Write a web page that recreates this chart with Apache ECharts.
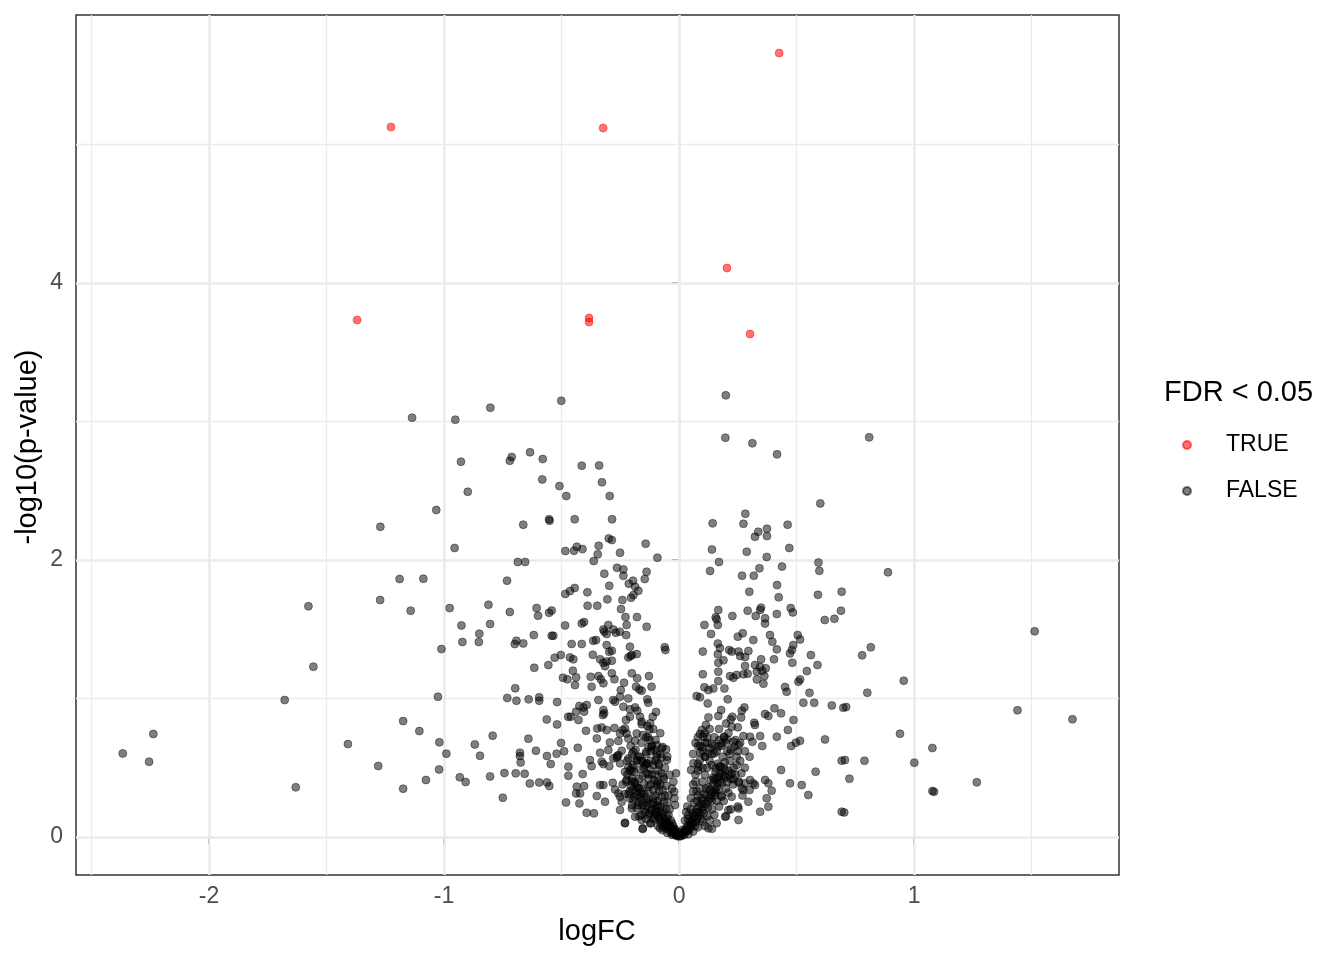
<!DOCTYPE html>
<html>
<head>
<meta charset="utf-8">
<script src="https://cdn.jsdelivr.net/npm/echarts@6/dist/echarts.min.js"></script>
<style>
html,body{margin:0;padding:0;background:#fff;}
#chart{width:1344px;height:960px;}
</style>
</head>
<body>
<div id="chart"></div>
<script>
// ---- Data (logFC, -log10 p-value) ----
const sigPoints = [
  [0.426,5.66],[-1.226,5.126],[-0.323,5.119],[0.204,4.108],[-1.370,3.733],
  [-0.383,3.747],[-0.383,3.718],[0.302,3.632]
];

const farLeft = [
  [-1.271,2.24],[-1.189,1.863],[-1.272,1.711],[-1.577,1.666],[-1.556,1.23],[-1.678,0.989],
  [-1.174,0.837],[-1.409,0.671],[-1.280,0.513],[-1.631,0.359],[-1.174,0.349],
  [-2.237,0.744],[-2.367,0.604],[-2.255,0.544]
];

const leftUpper = [
  [-1.136,3.028],[-0.952,3.013],[-0.803,3.100],[-0.501,3.150],[-0.928,2.710],[-0.712,2.744],
  [-0.720,2.717],[-0.634,2.778],[-0.580,2.729],[-0.582,2.582],[-0.509,2.534],[-0.480,2.462],
  [-0.899,2.493],[-1.033,2.361],[-0.553,2.294],[-0.551,2.284],[-0.663,2.255],[-0.955,2.087],
  [-0.484,2.065],[-0.686,1.986],[-0.655,1.986],[-1.088,1.865],[-0.732,1.851],[-0.484,1.755],
  [-0.464,1.776],[-1.142,1.634],[-0.976,1.653],[-0.811,1.677],[-0.720,1.625],[-0.606,1.653],
  [-0.600,1.598],[-0.553,1.619],[-0.542,1.635]
];

const leftLower = [
  [-0.926,1.528],[-0.804,1.538],[-0.850,1.468],[-0.922,1.408],[-0.852,1.408],[-1.011,1.357],
  [-0.692,1.417],[-0.699,1.393],[-0.663,1.398],[-0.618,1.458],[-0.542,1.453],[-0.535,1.453],
  [-0.485,1.528],[-0.616,1.222],[-0.556,1.242],[-0.529,1.295],[-0.503,1.314],[-0.494,1.150],
  [-0.697,1.074],[-1.026,1.013],[-0.731,1.004],[-0.692,0.984],[-0.640,0.994],[-0.595,1.009],
  [-0.595,0.984],[-0.519,0.975],[-1.105,0.765],[-0.563,0.849],[-0.519,0.813],[-0.472,0.868],
  [-0.793,0.732],[-1.020,0.684],[-0.869,0.669],[-0.990,0.602],[-0.847,0.587],[-0.641,0.710],
  [-0.677,0.609],[-0.677,0.585],[-0.674,0.539],[-0.609,0.623],[-0.562,0.585],[-0.546,0.527],
  [-0.521,0.602],[-0.502,0.679],[-0.489,0.619],[-1.021,0.488],[-1.077,0.412],[-0.933,0.431],
  [-0.908,0.397],[-0.804,0.438],[-0.743,0.462],[-0.695,0.460],[-0.657,0.457],[-0.635,0.387],
  [-0.595,0.394],[-0.562,0.394],[-0.552,0.368],[-0.750,0.284],[-0.481,0.250],[-0.471,0.508],
  [-0.471,0.443]
];

const innerLeftUpper = [
  [-0.414,2.681],[-0.340,2.683],[-0.328,2.561],[-0.295,2.462],[-0.444,2.294],[-0.285,2.294],
  [-0.299,2.156],[-0.286,2.144],[-0.142,2.118],[-0.447,2.067],[-0.435,2.096],[-0.411,2.079],
  [-0.342,2.103],[-0.346,2.041],[-0.363,1.993],[-0.251,2.053],[-0.092,2.017],[-0.318,1.901],
  [-0.264,1.944],[-0.237,1.932],[-0.237,1.886],[-0.138,1.915],[-0.146,1.863],[-0.196,1.851],
  [-0.214,1.829],[-0.187,1.807],[-0.173,1.778],[-0.297,1.814],[-0.444,1.798],[-0.390,1.767],
  [-0.389,1.670],[-0.348,1.670],[-0.305,1.716],[-0.241,1.711],[-0.204,1.728],[-0.194,1.747],
  [-0.247,1.646],[-0.228,1.588],[-0.179,1.588],[-0.138,1.518],[-0.223,1.531],[-0.414,1.542],
  [-0.404,1.552],[-0.301,1.531],[-0.322,1.499],[-0.280,1.499]
];

const innerLeftLower = [
  [-0.318,1.483],[-0.308,1.466],[-0.269,1.475],[-0.252,1.483],[-0.225,1.458],
  [-0.457,1.394],[-0.414,1.394],[-0.365,1.417],[-0.353,1.422],[-0.308,1.386],[-0.297,1.338],
  [-0.286,1.345],[-0.209,1.374],[-0.201,1.314],[-0.180,1.321],[-0.061,1.370],[-0.058,1.350],
  [-0.464,1.297],[-0.450,1.283],[-0.367,1.316],[-0.336,1.283],[-0.322,1.258],[-0.308,1.268],
  [-0.286,1.273],[-0.315,1.234],[-0.216,1.297],[-0.206,1.307],
  [-0.452,1.201],[-0.475,1.139],[-0.438,1.153],[-0.443,1.097],[-0.376,1.157],[-0.372,1.085],
  [-0.343,1.162],[-0.333,1.139],[-0.322,1.110],[-0.286,1.182],[-0.275,1.139],[-0.234,1.114],
  [-0.248,1.061],[-0.201,1.182],[-0.178,1.146],[-0.183,1.085],[-0.169,1.066],[-0.159,1.056],
  [-0.128,1.162],[-0.117,1.085],
  [-0.343,0.989],[-0.280,0.989],[-0.272,0.977],[-0.251,1.013],[-0.216,1.001],[-0.237,0.941],
  [-0.209,0.922],[-0.187,0.936],[-0.178,0.912],[-0.135,0.994],[-0.131,0.970],[-0.098,0.903],
  [-0.112,0.869],[-0.424,0.946],[-0.407,0.936],[-0.393,0.953],[-0.404,0.905],[-0.438,0.905],
  [-0.461,0.869],[-0.428,0.845],[-0.322,0.917],[-0.324,0.881],[-0.319,0.893],[-0.226,0.845],
  [-0.209,0.869],[-0.166,0.869],[-0.159,0.833],[-0.123,0.821],
  [-0.396,0.767],[-0.348,0.784],[-0.329,0.791],[-0.308,0.772],[-0.275,0.788],[-0.240,0.772],
  [-0.230,0.784],[-0.223,0.748],[-0.251,0.748],[-0.180,0.748],[-0.159,0.815],[-0.135,0.801],
  [-0.126,0.777],[-0.154,0.736],[-0.350,0.712],[-0.294,0.683],[-0.258,0.693],[-0.216,0.712],
  [-0.206,0.657],[-0.131,0.720],[-0.117,0.652],[-0.095,0.664],[-0.187,0.695],[-0.431,0.644],
  [-0.336,0.608],[-0.301,0.628],[-0.258,0.592],[-0.244,0.623],[-0.265,0.575],[-0.216,0.568],
  [-0.194,0.616],[-0.166,0.580],[-0.140,0.616],[-0.095,0.604],[-0.074,0.640],[-0.055,0.633],
  [-0.410,0.455],[-0.379,0.556],[-0.372,0.512],[-0.329,0.544],[-0.322,0.527],[-0.297,0.512],
  [-0.280,0.568],[-0.263,0.585],[-0.251,0.532],[-0.230,0.471],[-0.216,0.507],[-0.201,0.479],
  [-0.180,0.556],[-0.154,0.544],[-0.140,0.532],[-0.131,0.455],[-0.088,0.532],[-0.074,0.575],
  [-0.052,0.556],[-0.013,0.460],[-0.336,0.375],[-0.322,0.375],[-0.282,0.392],[-0.272,0.344],
  [-0.258,0.315],[-0.251,0.291],[-0.244,0.255],[-0.223,0.412],[-0.201,0.424],[-0.187,0.388],
  [-0.173,0.352],[-0.159,0.315],[-0.131,0.363],[-0.095,0.388],[-0.067,0.436],[-0.024,0.400],
  [-0.021,0.327],[-0.435,0.364],[-0.438,0.315],[-0.421,0.315],[-0.404,0.368],[-0.424,0.243],
  [-0.350,0.296],[-0.315,0.255],[-0.251,0.195],[-0.393,0.175],[-0.362,0.171],[-0.230,0.103],
  [-0.201,0.207],[-0.187,0.147],[-0.159,0.123],[-0.123,0.099],[-0.154,0.063],[-0.081,0.063],
  [-0.052,0.094],[-0.017,0.231]
];

const centerLeft = [
  [-0.01,0.01],[-0.02,0.02],[-0.015,0.04],[-0.03,0.05],[-0.025,0.08],[-0.04,0.07],[-0.05,0.1],
  [-0.035,0.12],[-0.06,0.13],[-0.045,0.16],[-0.07,0.17],[-0.055,0.2],[-0.08,0.22],[-0.065,0.25],
  [-0.09,0.26],[-0.075,0.29],[-0.1,0.3],[-0.085,0.33],[-0.11,0.34],[-0.095,0.37],[-0.12,0.38],
  [-0.105,0.41],[-0.13,0.42],[-0.115,0.45],[-0.14,0.46],[-0.125,0.49],[-0.15,0.5],[-0.135,0.53],
  [-0.16,0.55],[-0.1,0.2],[-0.12,0.24],[-0.14,0.28],[-0.16,0.32],[-0.18,0.36],[-0.2,0.4],
  [-0.13,0.16],[-0.15,0.2],[-0.17,0.25],[-0.19,0.29],[-0.21,0.33],[-0.11,0.13],[-0.09,0.08],
  [-0.07,0.05],[-0.05,0.03],[-0.03,0.015],[-0.08,0.12],[-0.06,0.08],[-0.1,0.16],[-0.12,0.1],
  [-0.14,0.13],[-0.16,0.16],[-0.18,0.21],[-0.2,0.23],[-0.17,0.42],[-0.19,0.47],[-0.15,0.38],
  [-0.13,0.33],[-0.11,0.28],[-0.09,0.23],[-0.07,0.19],[-0.05,0.14],[-0.04,0.2],[-0.06,0.3],
  [-0.08,0.38],[-0.1,0.45],[-0.12,0.55],[-0.14,0.6],[-0.02,0.06],[-0.03,0.1],[-0.09,0.4],
  [-0.07,0.34],[-0.05,0.25],[-0.11,0.52],[-0.13,0.65],[-0.18,0.55],[-0.2,0.6],[-0.22,0.45],
  [-0.24,0.38],[-0.155,0.058],[-0.23,0.099],[-0.17,0.15],[-0.1,0.55],[-0.08,0.6],[-0.06,0.5],
  [-0.04,0.45],[-0.12,0.62],[-0.1,0.7],[-0.08,0.75],[-0.14,0.72],[-0.16,0.68],[-0.11,0.78],
  [-0.07,0.65],[-0.05,0.58],[-0.03,0.35],[-0.02,0.28],[-0.09,0.48],[-0.005,0.005],[-0.012,0.025],
  [-0.008,0.015],[-0.022,0.035],[-0.018,0.055],[-0.033,0.065],[-0.028,0.03],[-0.042,0.09],
  [-0.052,0.06],[-0.064,0.1],[-0.072,0.14],[-0.082,0.18],[-0.088,0.15],[-0.098,0.22],
  [-0.108,0.25],[-0.118,0.19],[-0.128,0.27],[-0.138,0.22],[-0.148,0.31],[-0.158,0.26],
  [-0.168,0.35],[-0.178,0.3],[-0.188,0.4],[-0.198,0.34],[-0.2,0.5],[-0.22,0.55],[-0.21,0.28],
  [-0.23,0.31],
  [-0.015,0.02],[-0.025,0.045],[-0.038,0.04],[-0.048,0.075],[-0.058,0.11],[-0.068,0.075],
  [-0.078,0.1],[-0.085,0.135],[-0.095,0.18],[-0.105,0.14],[-0.115,0.2],[-0.125,0.17],
  [-0.135,0.25],[-0.145,0.18],[-0.155,0.23],[-0.165,0.29],[-0.175,0.23],[-0.185,0.33],
  [-0.195,0.27],[-0.205,0.37],[-0.215,0.31],[-0.225,0.4],[-0.045,0.3],[-0.055,0.37],
  [-0.065,0.42],[-0.075,0.46],[-0.085,0.52],[-0.095,0.58],[-0.105,0.63],[-0.115,0.66],
  [-0.125,0.7],[-0.145,0.52],[-0.155,0.44],[-0.165,0.49],[-0.175,0.58],[-0.185,0.63],
  [-0.195,0.52],[-0.21,0.48]
];

const centerRight = [
  [0.01,0.01],[0.02,0.03],[0.015,0.05],[0.03,0.04],[0.035,0.08],[0.05,0.07],[0.045,0.11],
  [0.06,0.1],[0.06,0.14],[0.075,0.13],[0.07,0.18],[0.09,0.17],[0.085,0.22],[0.1,0.2],[0.1,0.26],
  [0.115,0.24],[0.115,0.3],[0.13,0.28],[0.13,0.34],[0.145,0.32],[0.145,0.38],[0.16,0.36],
  [0.16,0.42],[0.175,0.4],[0.175,0.46],[0.19,0.44],[0.19,0.5],[0.21,0.48],[0.22,0.42],[0.24,0.45],
  [0.2,0.35],[0.23,0.38],[0.18,0.3],[0.21,0.32],[0.16,0.26],[0.19,0.26],[0.14,0.2],[0.17,0.22],
  [0.12,0.15],[0.15,0.16],[0.1,0.11],[0.13,0.12],[0.08,0.07],[0.11,0.08],[0.04,0.02],[0.06,0.04],
  [0.025,0.12],[0.04,0.16],[0.05,0.2],[0.065,0.25],[0.08,0.3],[0.09,0.35],[0.1,0.4],[0.11,0.45],
  [0.12,0.5],[0.13,0.55],[0.14,0.6],[0.07,0.4],[0.08,0.48],[0.06,0.33],[0.05,0.28],[0.09,0.56],
  [0.1,0.62],[0.12,0.68],[0.15,0.72],[0.17,0.78],[0.2,0.82],[0.22,0.85],[0.06,0.6],[0.07,0.68],
  [0.26,0.55],[0.28,0.5],[0.25,0.62],[0.3,0.58],[0.27,0.3],[0.25,0.22],[0.3,0.34],[0.2,0.15],
  [0.22,0.2],[0.16,0.1],[0.14,0.06],[0.035,0.22],[0.03,0.18],[0.005,0.005],[0.012,0.02],
  [0.008,0.035],[0.022,0.015],[0.028,0.06],[0.042,0.05],[0.038,0.13],[0.052,0.09],[0.068,0.08],
  [0.058,0.17],[0.072,0.11],[0.082,0.15],[0.078,0.26],[0.092,0.13],[0.095,0.24],[0.105,0.17],
  [0.108,0.31],[0.122,0.21],[0.125,0.36],[0.138,0.26],[0.135,0.41],[0.152,0.3],[0.155,0.47],
  [0.168,0.34],[0.165,0.53],[0.182,0.39],[0.185,0.58],[0.198,0.43],[0.205,0.62],[0.215,0.55],
  [0.232,0.5],[0.245,0.58],[0.255,0.4],[0.265,0.46],[0.11,0.58],[0.13,0.64],[0.15,0.66],
  [0.17,0.7],[0.19,0.72],[0.21,0.75],[0.24,0.7],[0.09,0.66],[0.08,0.72],[0.11,0.75],
  [0.015,0.025],[0.025,0.04],[0.035,0.055],[0.045,0.08],[0.055,0.12],[0.065,0.15],[0.075,0.2],
  [0.085,0.18],[0.095,0.28],[0.105,0.22],[0.115,0.35],[0.125,0.26],[0.135,0.3],[0.145,0.43],
  [0.155,0.34],[0.165,0.39],[0.175,0.51],[0.185,0.45],[0.195,0.54],[0.205,0.4],[0.215,0.6],
  [0.225,0.46],[0.235,0.65],[0.245,0.52],[0.06,0.38],[0.07,0.45],[0.08,0.53],[0.09,0.61],
  [0.1,0.5],[0.11,0.68],[0.12,0.72],[0.13,0.78],[0.14,0.67],[0.16,0.62],[0.18,0.66],[0.2,0.68],
  [0.22,0.63],[0.26,0.68],[0.28,0.62],[0.075,0.33]
];

const rightUpper = [
  [0.199,3.189],[0.197,2.883],[0.312,2.843],[0.417,2.763],[0.601,2.409],[0.282,2.334],
  [0.143,2.265],[0.274,2.262],[0.337,2.204],[0.374,2.226],[0.323,2.168],[0.374,2.173],
  [0.462,2.255],[0.140,2.076],[0.288,2.060],[0.469,2.087],[0.373,2.022],[0.170,1.986],
  [0.132,1.921],[0.268,1.887],[0.318,1.887],[0.342,1.940],[0.438,1.953],[0.593,1.982],
  [0.597,1.922],[0.417,1.819],[0.299,1.771],[0.424,1.731],[0.591,1.749],[0.692,1.771],
  [0.167,1.639],[0.156,1.586],[0.227,1.596],[0.292,1.634],[0.349,1.656],[0.345,1.639],
  [0.326,1.596],[0.366,1.579],[0.416,1.610],[0.475,1.653],[0.484,1.622],[0.689,1.634],
  [0.620,1.567],[0.661,1.576],[0.366,1.541]
];

const rightMiddle = [
  [0.108,1.531],[0.160,1.572],[0.165,1.531],[0.136,1.466],[0.250,1.447],[0.271,1.471],
  [0.316,1.422],[0.387,1.458],[0.397,1.410],[0.416,1.355],[0.505,1.458],[0.515,1.427],
  [0.486,1.386],[0.480,1.350],[0.472,1.326],[0.482,1.258],[0.561,1.314],[0.589,1.242],
  [0.101,1.339],[0.165,1.397],[0.174,1.364],[0.213,1.350],[0.224,1.339],[0.253,1.339],
  [0.295,1.343],[0.281,1.300],[0.260,1.307],[0.165,1.319],[0.189,1.276],[0.167,1.258],
  [0.323,1.242],[0.349,1.283],[0.404,1.283],[0.369,1.218],[0.354,1.199],[0.345,1.227],
  [0.331,1.194],[0.281,1.235],[0.292,1.179],[0.274,1.175],[0.217,1.162],[0.231,1.150],
  [0.245,1.170],[0.167,1.194],[0.101,1.175],[0.167,1.126],[0.331,1.138],[0.359,1.107],
  [0.363,1.162],[0.451,1.083],[0.458,1.049],[0.515,1.138],[0.508,1.121],[0.544,1.198],
  [0.555,1.041],[0.529,0.969],[0.575,0.969],[0.650,0.950],[0.699,0.933],
  [0.075,1.018],[0.089,1.009],[0.108,1.081],[0.125,1.061],[0.146,1.073],[0.122,0.965],
  [0.193,1.073],[0.207,0.994],[0.278,0.936],[0.267,0.912],[0.264,0.864],[0.224,0.796],
  [0.250,0.792],[0.227,0.869],[0.179,0.917],[0.167,0.874],[0.125,0.864],[0.114,0.809],
  [0.097,0.773],[0.089,0.744],[0.103,0.725],[0.366,0.888],[0.380,0.874],[0.406,0.929],
  [0.434,0.893],[0.320,0.825],[0.323,0.809],[0.345,0.729],[0.354,0.657],[0.312,0.688],
  [0.302,0.724],[0.274,0.729],[0.253,0.664],[0.231,0.688],[0.416,0.724],[0.463,0.773],
  [0.487,0.845],[0.477,0.657],[0.497,0.681],[0.515,0.695],[0.621,0.705],[0.692,0.551],
  [0.706,0.556],[0.080,0.657],[0.099,0.648],[0.125,0.609],[0.111,0.580],[0.150,0.604],
  [0.167,0.652],[0.181,0.676],[0.193,0.724],[0.203,0.705]
];

const rightLower = [
  [0.051,0.484],[0.061,0.532],[0.085,0.508],[0.139,0.520],[0.156,0.496],[0.174,0.508],
  [0.196,0.484],[0.217,0.448],[0.167,0.436],[0.150,0.417],[0.231,0.417],[0.253,0.393],
  [0.267,0.352],[0.274,0.339],[0.281,0.388],[0.302,0.412],[0.316,0.388],[0.323,0.375],
  [0.366,0.412],[0.380,0.388],[0.394,0.335],[0.373,0.280],[0.380,0.219],[0.345,0.183],
  [0.434,0.484],[0.472,0.388],[0.522,0.375],[0.550,0.303],[0.581,0.472],[0.692,0.183],
  [0.295,0.255],[0.253,0.207],[0.253,0.123],[0.210,0.195],[0.224,0.291],[0.181,0.291],
  [0.153,0.320],[0.125,0.063],[0.196,0.147]
];

const farRight = [
  [0.809,2.886],[0.889,1.911],[1.513,1.485],[0.816,1.370],[0.779,1.312],[0.956,1.129],
  [0.801,1.042],[0.711,0.939],[1.440,0.915],[1.674,0.850],[0.940,0.746],[1.078,0.643],
  [1.001,0.537],[0.789,0.551],[0.725,0.421],[1.267,0.395],[1.078,0.332],[1.085,0.327],
  [0.703,0.178]
];

// ---- Axis ticks and grid positions ----
const xTicks = [-2, -1, 0, 1];
const xMinor = [-2.5, -1.5, -0.5, 0.5, 1.5];
const yTicks = [0, 2, 4];
const yMinor = [1, 3, 5];

const nonSigPoints = [].concat(farLeft, leftUpper, leftLower, innerLeftUpper, innerLeftLower,
  centerLeft, centerRight, rightUpper, rightMiddle, rightLower, farRight);

const FONT = '"Liberation Sans", Arial, Helvetica, sans-serif';
const chart = echarts.init(document.getElementById('chart'), null, {renderer: 'canvas'});

const gridLines = [].concat(
  xMinor.map(v => ({xAxis: v, lineStyle: {width: 1.3}})),
  yMinor.map(v => ({yAxis: v, lineStyle: {width: 1.3}})),
  xTicks.map(v => ({xAxis: v, lineStyle: {width: 2.6}})),
  yTicks.map(v => ({yAxis: v, lineStyle: {width: 2.6}}))
);

chart.setOption({
  animation: false,
  backgroundColor: '#ffffff',
  grid: {
    left: 76, top: 15, right: 225, bottom: 85,
    show: true, borderColor: '#333333', borderWidth: 1.5, backgroundColor: 'transparent'
  },
  xAxis: {
    type: 'value', min: -2.566, max: 1.872,
    axisLine: {show: false},
    splitLine: {show: false},
    axisTick: {show: true, length: 7, lineStyle: {color: '#333333', width: 2}, customValues: xTicks},
    axisLabel: {customValues: xTicks, fontSize: 23, color: '#4D4D4D', fontFamily: FONT, margin: 10}
  },
  yAxis: {
    type: 'value', min: -0.274, max: 5.935,
    axisLine: {show: false},
    splitLine: {show: false},
    axisTick: {show: true, length: 7, lineStyle: {color: '#333333', width: 2}, customValues: yTicks},
    axisLabel: {customValues: yTicks, fontSize: 23, color: '#4D4D4D', fontFamily: FONT, margin: 13}
  },
  legend: {
    orient: 'vertical',
    left: 1177, top: 428,
    itemWidth: 68, itemHeight: 8, itemGap: 22,
    icon: 'circle',
    textStyle: {fontSize: 23, color: '#000', fontFamily: FONT, lineHeight: 24},
    data: ['TRUE', 'FALSE'],
    selectedMode: false
  },
  graphic: [
    {type: 'text', x: 28, y: 447, rotation: Math.PI / 2,
     style: {text: '-log10(p-value)', font: '29px ' + FONT, fill: '#000', align: 'center', verticalAlign: 'middle', textAlign: 'center', textVerticalAlign: 'middle'}},
    {type: 'text', x: 597, y: 932,
     style: {text: 'logFC', font: '29px ' + FONT, fill: '#000', align: 'center', verticalAlign: 'middle', textAlign: 'center', textVerticalAlign: 'middle'}},
    {type: 'text', x: 1164, y: 393,
     style: {text: 'FDR < 0.05', font: '29px ' + FONT, fill: '#000', align: 'left', verticalAlign: 'middle', textAlign: 'left', textVerticalAlign: 'middle'}}
  ],
  series: [
    {
      type: 'scatter', name: 'grid', data: [], silent: true, z: 1,
      markLine: {
        silent: true, z: 1, symbol: ['none', 'none'], animation: false,
        label: {show: false},
        lineStyle: {color: '#EBEBEB', type: 'solid'},
        emphasis: {disabled: true},
        data: gridLines
      }
    },
    {
      type: 'scatter', name: 'FALSE', data: nonSigPoints, symbol: 'circle', symbolSize: 8, z: 2,
      itemStyle: {color: 'rgba(0,0,0,0.5)', borderColor: 'rgba(0,0,0,0.5)', borderWidth: 0.8, opacity: 1}
    },
    {
      type: 'scatter', name: 'TRUE', data: sigPoints, symbol: 'circle', symbolSize: 8, z: 3,
      itemStyle: {color: 'rgba(255,0,0,0.55)', borderColor: 'rgba(255,0,0,0.55)', borderWidth: 0.8, opacity: 1}
    }
  ]
});
</script>
</body>
</html>
